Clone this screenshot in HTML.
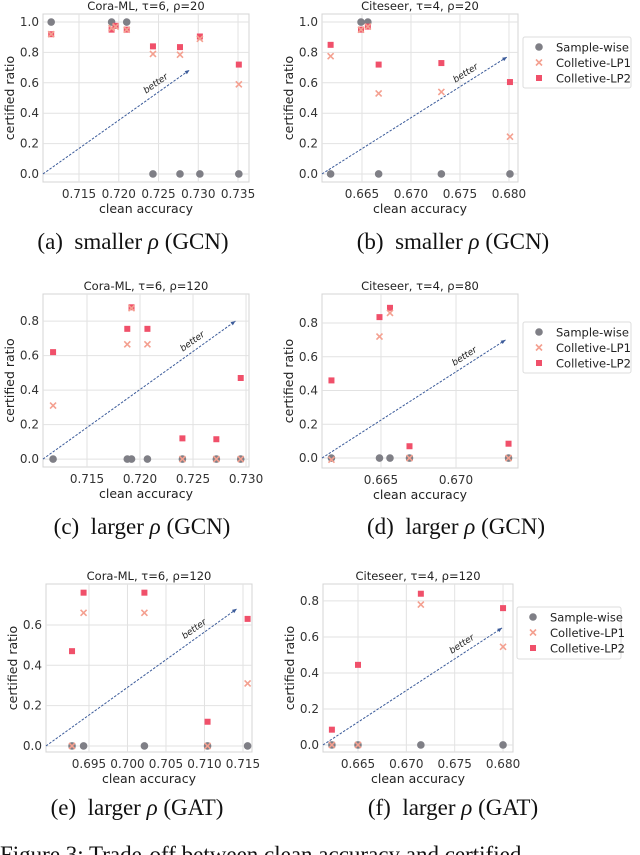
<!DOCTYPE html>
<html><head><meta charset="utf-8"><style>
html,body{margin:0;padding:0;background:#fff;}
svg{display:block;font-family:"DejaVu Sans","Liberation Sans",sans-serif;}
.cap{font-family:"Liberation Serif",serif;font-size:23px;fill:#111;}
</style></head><body>
<svg id="fig" width="640" height="855" viewBox="0 0 640 855"></svg>
<script>
// ---- data (a) Cora-ML tau=6 rho=20 GCN
const aX=[0.7115,0.7191,0.7196,0.7210,0.7243,0.7277,0.7302,0.7351];
const aSW=[1,1,null,1,0,0,0,0];
const aLP1=[0.92,0.96,0.97,0.95,0.79,0.785,0.89,0.59];
const aLP2=[0.92,0.95,0.975,0.95,0.84,0.835,0.905,0.72];
const aArrow=[0.7289,0.684];
const aXTicks=[0.715,0.720,0.725,0.730,0.735];
const aYTicks=[0,0.2,0.4,0.6,0.8,1.0];
// ---- data (b) Citeseer tau=4 rho=20 GCN
const bX=[0.6618,0.6649,0.6656,0.6667,0.6731,0.6801];
const bSW=[0,1,1,0,0,0];
const bLP1=[0.775,0.95,0.97,0.53,0.54,0.245];
const bLP2=[0.85,0.95,0.97,0.72,0.73,0.605];
const bArrow=[0.6798,0.77];
const bXTicks=[0.665,0.670,0.675,0.680];
const bYTicks=[0,0.2,0.4,0.6,0.8,1.0];
// ---- data (c) Cora-ML tau=6 rho=120 GCN
const cX=[0.7118,0.7188,0.7192,0.7207,0.7240,0.7272,0.7295];
const cSW=[0,0,0,0,0,0,0];
const cLP1=[0.31,0.665,0.875,0.665,0,0,0];
const cLP2=[0.62,0.755,0.88,0.755,0.12,0.115,0.47];
const cArrow=[0.7290,0.80];
const cXTicks=[0.715,0.720,0.725,0.730];
const cYTicks=[0,0.2,0.4,0.6,0.8];
// ---- data (d) Citeseer tau=4 rho=80 GCN
const dX=[0.6617,0.6649,0.6656,0.6669,0.6735];
const dSW=[0,0,0,0,0];
const dLP1=[-0.01,0.72,0.86,0,0];
const dLP2=[0.46,0.835,0.89,0.07,0.085];
const dArrow=[0.6733,0.70];
const dXTicks=[0.665,0.670];
const dYTicks=[0,0.2,0.4,0.6,0.8];
// ---- data (e) Cora-ML tau=6 rho=120 GAT
const eX=[0.6928,0.6943,0.7022,0.7104,0.7156];
const eSW=[0,0,0,0,0];
const eLP1=[0,0.66,0.66,0,0.31];
const eLP2=[0.47,0.76,0.76,0.12,0.63];
const eArrow=[0.7142,0.68];
const eXTicks=[0.695,0.700,0.705,0.710,0.715];
const eYTicks=[0,0.2,0.4,0.6];
// ---- data (f) Citeseer tau=4 rho=120 GAT
const fX=[0.6623,0.6650,0.6715,0.6800];
const fSW=[0,0,0,0];
const fLP1=[0,0,0.78,0.545];
const fLP2=[0.085,0.445,0.84,0.76];
const fArrow=[0.6799,0.65];
const fXTicks=[0.665,0.670,0.675,0.680];
const fYTicks=[0,0.2,0.4,0.6,0.8];

const NS="http://www.w3.org/2000/svg";
const svg=document.getElementById('fig');
function mk(tag,attrs,parent,text){const e=document.createElementNS(NS,tag);for(const k in attrs)e.setAttribute(k,attrs[k]);if(text!==undefined)e.textContent=text;(parent||svg).appendChild(e);return e;}

function plot(id,box,xlim,ylim,title,xs,sw,lp1,lp2,arrow,xt,yt,capX,caption,capY,legend){
  const g=mk('g',{});
  
  
  const [L,T,R,B]=box;
  const sx=v=>L+(v-xlim[0])/(xlim[1]-xlim[0])*(R-L);
  const sy=v=>B-(v-ylim[0])/(ylim[1]-ylim[0])*(B-T);
  mk('rect',{x:L,y:T,width:R-L,height:B-T,fill:'#fff',stroke:'#d4d4d4','stroke-width':1},g);
  xt.forEach(t=>{const x=sx(t);
    const gl=mk('line',{x1:x,x2:x,y1:T,y2:B,stroke:'#e2e2e2','stroke-width':1},g);
    
    
    const tl=mk('text',{x:x,y:B+16,'font-size':12,'text-anchor':'middle',fill:'#333'},g,t.toFixed(3));
    
    });
  yt.forEach(t=>{const y=sy(t);
    const gl=mk('line',{x1:L,x2:R,y1:y,y2:y,stroke:'#e2e2e2','stroke-width':1},g);
    
    
    const tl=mk('text',{x:L-4,y:y+4,'font-size':12,'text-anchor':'end',fill:'#333'},g,t.toFixed(1));
    
    });
  const ti=mk('text',{x:(L+R)/2,y:T-4,'font-size':11.5,'text-anchor':'middle',fill:'#222'},g,title);
  
  
  const xl=mk('text',{x:(L+R)/2,y:B+31,'font-size':12.5,'text-anchor':'middle',fill:'#222'},g,'clean accuracy');
  
  
  const yl=mk('text',{x:0,y:0,'font-size':12.5,'text-anchor':'middle',fill:'#222',transform:`translate(${L-29},${(T+B)/2}) rotate(-90)`},g,'certified ratio');
  
  
  const x0=L,y0=sy(0),x1=sx(arrow[0]),y1=sy(arrow[1]);
  const ln=mk('line',{x1:x0,y1:y0,x2:x1,y2:y1,stroke:'#3b5b9a','stroke-width':1,'stroke-dasharray':'2.5,1.5'},g);
  
  
  const ang=Math.atan2(y1-y0,x1-x0);
  const ah=5;
  mk('polygon',{points:`${x1},${y1} ${x1-ah*Math.cos(ang-0.4)},${y1-ah*Math.sin(ang-0.4)} ${x1-ah*Math.cos(ang+0.4)},${y1-ah*Math.sin(ang+0.4)}`,fill:'#3b5b9a'},g);
  const bx=x0+(x1-x0)*0.8,by=y0+(y1-y0)*0.8;
  const bt=mk('text',{x:0,y:0,'font-size':9,'font-style':'italic','text-anchor':'middle',fill:'#222',transform:`translate(${bx-3},${by-5}) rotate(${ang*180/Math.PI})`},g,'better');
  
  
  xs.forEach((xv,i)=>{
    const px=sx(xv);
    if(sw[i]!==null){const c=mk('circle',{cx:px,cy:sy(sw[i]),r:3.8,fill:'#7f7f86'},g);
      
      }
    if(lp2[i]!==null){const s=mk('rect',{x:px-3,y:sy(lp2[i])-3,width:6,height:6,fill:'#f0506a'},g);
      
      }
    if(lp1[i]!==null){const py=sy(lp1[i]);
      const p=mk('path',{d:`M${px-3},${py-3}L${px+3},${py+3}M${px-3},${py+3}L${px+3},${py-3}`,stroke:'#f4a090','stroke-width':1.6},g);
      
      }
  });
  const cp=mk('text',{x:capX,y:capY,'text-anchor':'middle',class:'cap'},g);
  
  
  cp.innerHTML=caption;
  if(legend){
    const [lx,ly,lw,lh]=legend;
    const lg=mk('g',{},g);
    
    
    mk('rect',{x:lx,y:ly,width:lw,height:lh,fill:'#fff',stroke:'#dcdcdc',rx:2},lg);
    const names=['Sample-wise','Colletive-LP1','Colletive-LP2'];
    names.forEach((n,k)=>{const yy=ly+10+k*15.5;const mx=lx+16;
      if(k===0)mk('circle',{cx:mx,cy:yy,r:3.8,fill:'#7f7f86'},lg);
      if(k===1)mk('path',{d:`M${mx-3},${yy-3}L${mx+3},${yy+3}M${mx-3},${yy+3}L${mx+3},${yy-3}`,stroke:'#f4a090','stroke-width':1.6},lg);
      if(k===2)mk('rect',{x:mx-3,y:yy-3,width:6,height:6,fill:'#f0506a'},lg);
      const t=mk('text',{x:lx+33,y:yy+4.5,'font-size':11.5,fill:'#222'},lg,n);
      
      });
  }
}
plot('a',[43,14,249,182],[0.71047,0.73638],[-0.053,1.053],'Cora-ML, τ=6, ρ=20',aX,aSW,aLP1,aLP2,aArrow,aXTicks,aYTicks,133,'(a)&#160; smaller <tspan font-style="italic">ρ</tspan> (GCN)',249,null);
plot('b',[322,14,518,182],[0.66092,0.68092],[-0.053,1.053],'Citeseer, τ=4, ρ=20',bX,bSW,bLP1,bLP2,bArrow,bXTicks,bYTicks,453,'(b)&#160; smaller <tspan font-style="italic">ρ</tspan> (GCN)',249,[523,37,108,51]);
plot('c',[43,294,249,467],[0.71085,0.73028],[-0.046,0.957],'Cora-ML, τ=6, ρ=120',cX,cSW,cLP1,cLP2,cArrow,cXTicks,cYTicks,142,'(c)&#160; larger <tspan font-style="italic">ρ</tspan> (GCN)',534,null);
plot('d',[322,294,518,468],[0.66107,0.67413],[-0.059,0.972],'Citeseer, τ=4, ρ=80',dX,dSW,dLP1,dLP2,dArrow,dXTicks,dYTicks,456,'(d)&#160; larger <tspan font-style="italic">ρ</tspan> (GCN)',534,[523,322,108,51]);
plot('e',[46,584,252,752],[0.68942,0.71617],[-0.030,0.803],'Cora-ML, τ=6, ρ=120',eX,eSW,eLP1,eLP2,eArrow,eXTicks,eYTicks,137,'(e)&#160; larger <tspan font-style="italic">ρ</tspan> (GAT)',815,null);
plot('f',[323,584,513,752],[0.66138,0.68103],[-0.039,0.894],'Citeseer, τ=4, ρ=120',fX,fSW,fLP1,fLP2,fArrow,fXTicks,fYTicks,453,'(f)&#160; larger <tspan font-style="italic">ρ</tspan> (GAT)',815,[517,607,104,52]);
const fc=mk('text',{x:0,y:862,class:'cap','font-size':24},svg,'Figure 3: Trade-off between clean accuracy and certified');


</script>
</body></html>
